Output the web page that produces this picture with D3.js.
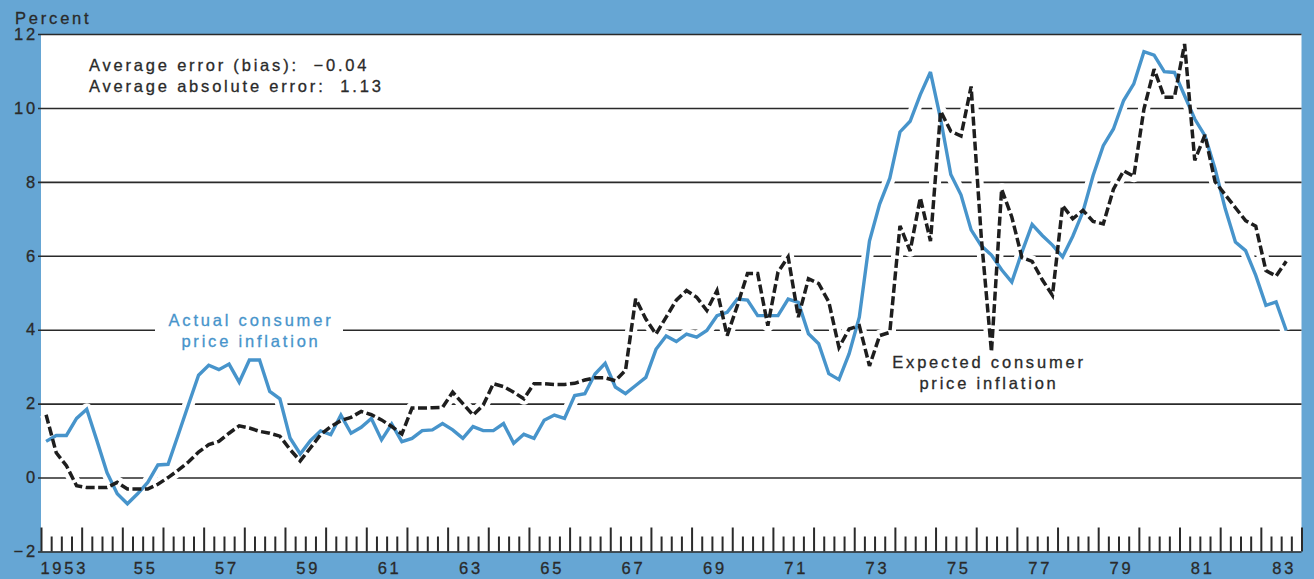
<!DOCTYPE html>
<html>
<head>
<meta charset="utf-8">
<script src="https://cdn.jsdelivr.net/npm/d3@7"></script>
<style>
  html, body { margin: 0; padding: 0; background: #66a6d4; }
  svg { display: block; }
  text { font-family: "Liberation Sans", Arial, Helvetica, sans-serif; }
</style>
</head>
<body>
<svg id="chart" width="1314" height="579"></svg>
<script>
// Quarterly series, 1953 Q1 through 1983 Q3 (percent)
const startYear = 1953;
const endYear = 1984;

const actualInflation = [
  0.98, 1.14, 1.14, 1.60,   // 1953
  1.85, 1.00, 0.13, -0.44,  // 1954
  -0.71, -0.44, -0.13, 0.34,// 1955
  0.36, 1.16, 1.97, 2.77,   // 1956
  3.04, 2.92, 3.07, 2.58,   // 1957
  3.18, 3.18, 2.33, 2.13,   // 1958
  1.07, 0.64, 1.00, 1.26,   // 1959
  1.16, 1.69, 1.20, 1.36,   // 1960
  1.60, 1.02, 1.45, 0.97,   // 1961
  1.06, 1.27, 1.29, 1.46,   // 1962
  1.29, 1.06, 1.38, 1.27,   // 1963
  1.27, 1.46, 0.93, 1.17,   // 1964
  1.06, 1.55, 1.69, 1.60,   // 1965
  2.22, 2.27, 2.80, 3.09,   // 1966
  2.45, 2.27, 2.49, 2.71,   // 1967
  3.47, 3.83, 3.68, 3.88,   // 1968
  3.80, 3.98, 4.38, 4.47,   // 1969
  4.83, 4.80, 4.38, 4.38,   // 1970
  4.38, 4.83, 4.74, 3.89,   // 1971
  3.62, 2.81, 2.65, 3.35,   // 1972
  4.34, 6.40, 7.40, 8.10,   // 1973
  9.35, 9.64, 10.36, 10.97, // 1974
  9.70, 8.20, 7.65, 6.70,   // 1975
  6.27, 6.02, 5.62, 5.29,   // 1976
  6.10, 6.85, 6.55, 6.29,   // 1977
  5.97, 6.53, 7.19, 8.17,   // 1978
  8.98, 9.43, 10.20, 10.65, // 1979
  11.52, 11.43, 10.98, 10.96, // 1980
  10.33, 9.70, 9.25, 8.35,  // 1981
  7.27, 6.37, 6.14, 5.47,   // 1982
  4.66, 4.75, 3.98          // 1983
];

const expectedInflation = [
  1.70, 0.67, 0.32, -0.22,  // 1953
  -0.27, -0.27, -0.27, -0.13, // 1954
  -0.31, -0.31, -0.31, -0.18, // 1955
  0.00, 0.20, 0.42, 0.69,   // 1956
  0.89, 0.98, 1.20, 1.40,   // 1957
  1.34, 1.25, 1.20, 1.12,   // 1958
  0.76, 0.45, 0.80, 1.16,   // 1959
  1.38, 1.54, 1.63, 1.79,   // 1960
  1.70, 1.56, 1.38, 1.18,   // 1961
  1.88, 1.88, 1.89, 1.90,   // 1962
  2.31, 2.00, 1.69, 1.96,   // 1963
  2.54, 2.46, 2.31, 2.13,   // 1964
  2.54, 2.54, 2.52, 2.52,   // 1965
  2.55, 2.64, 2.70, 2.70,   // 1966
  2.62, 2.90, 4.84, 4.29,   // 1967
  3.88, 4.34, 4.80, 5.06,   // 1968
  4.88, 4.52, 5.06, 3.84,   // 1969
  4.65, 5.52, 5.52, 4.11,   // 1970
  5.56, 5.97, 4.34, 5.38,   // 1971
  5.25, 4.75, 3.52, 4.02,   // 1972
  4.11, 3.02, 3.84, 3.93,   // 1973
  6.81, 6.13, 7.57, 6.40,   // 1974
  9.91, 9.37, 9.24, 10.58,  // 1975
  6.50, 3.40, 7.80, 7.05,   // 1976
  5.95, 5.85, 5.35, 4.93,   // 1977
  7.36, 7.00, 7.23, 6.93,   // 1978
  6.86, 7.80, 8.30, 8.15,   // 1979
  9.97, 11.05, 10.29, 10.29,// 1980
  11.73, 8.58, 9.27, 8.00,  // 1981
  7.65, 7.30, 6.95, 6.80,   // 1982
  5.60, 5.45, 5.85          // 1983
];

const yTickValues = [-2, 0, 2, 4, 6, 8, 10, 12];
const yearLabels = ["1953", "55", "57", "59", "61", "63", "65", "67", "69", "71", "73", "75", "77", "79", "81", "83"];
const labelYears = [1953, 1955, 1957, 1959, 1961, 1963, 1965, 1967, 1969, 1971, 1973, 1975, 1977, 1979, 1981, 1983];
const statLines = ["Average error (bias):\u00a0\u00a0\u22120.04", "Average absolute error:\u00a0\u00a01.13"];
const actualLabel = ["Actual consumer", "price inflation"];
const expectedLabel = ["Expected consumer", "price inflation"];

const ink = "#2a2a2a";
const lineBlue = "#4794cb";
const paper = "#ffffff";
const fontSize = 16.5;
const tracking = 2.8;

const svg = d3.select("#chart");

const x = d3.scaleLinear().domain([startYear, endYear]).range([41, 1301.5]);
const y = d3.scaleLinear().domain([-2, 12]).range([551.5, 34]);
const quarterTime = i => startYear + (i + 0.5) / 4;

// shared type settings; a hairline stroke gives the slightly heavier print weight
function typeset(sel, color) {
  return sel
    .attr("font-size", fontSize)
    .attr("letter-spacing", tracking)
    .attr("font-family", "Liberation Sans, Arial, sans-serif")
    .attr("fill", color)
    .attr("stroke", color)
    .attr("stroke-width", 0.3);
}

// white plotting field
svg.append("rect")
  .attr("x", x(startYear)).attr("y", y(12))
  .attr("width", x(endYear) - x(startYear))
  .attr("height", y(-2) - y(12))
  .attr("fill", paper);

// horizontal rules with value labels on the left
const gridLeft = 38;
const yAxis = d3.axisLeft(y)
  .tickValues(yTickValues)
  .tickSize(-(x(endYear) - gridLeft))
  .tickPadding(0)
  .tickFormat(d => d < 0 ? "\u2212" + Math.abs(d) : String(d));

const yg = svg.append("g")
  .attr("transform", `translate(${gridLeft},0)`)
  .call(yAxis);
yg.select(".domain").remove();
yg.selectAll(".tick line").attr("stroke", ink).attr("stroke-width", 1.6);
typeset(yg.selectAll(".tick text"), ink);

// quarterly tick marks on the time axis
const quarterBounds = d3.range(0, (endYear - startYear) * 4 + 1).map(q => startYear + q / 4);
const xAxis = d3.axisTop(x)
  .tickValues(quarterBounds)
  .tickSize(15)
  .tickFormat("");
const xg = svg.append("g")
  .attr("transform", `translate(0,${y(-2)})`)
  .call(xAxis);
xg.select(".domain").remove();
xg.selectAll(".tick line")
  .attr("stroke", ink)
  .attr("stroke-width", 2)
  .attr("y2", (d, i) => (i % 4 === 0 ? -24 : -15));

// year labels centred on each labelled year
typeset(svg.append("g").selectAll("text")
  .data(labelYears)
  .join("text")
  .attr("x", d => x(d + 0.5) + 3)
  .attr("y", 573.5)
  .attr("text-anchor", "middle")
  .text((d, i) => yearLabels[i]), ink);

// unit caption
typeset(svg.append("text")
  .attr("x", 15).attr("y", 24)
  .text("Percent"), ink);

// series lines
const line = d3.line()
  .x((d, i) => x(quarterTime(i)))
  .y(d => y(d));

const series = svg.append("g");
[actualInflation, expectedInflation].forEach(data => {
  series.append("path")
    .datum(data)
    .attr("d", line)
    .attr("fill", "none")
    .attr("stroke", paper)
    .attr("stroke-width", 12)
    .attr("stroke-linejoin", "round");
});

series.append("path")
  .datum(actualInflation)
  .attr("d", line)
  .attr("fill", "none")
  .attr("stroke", lineBlue)
  .attr("stroke-width", 3.4)
  .attr("stroke-linejoin", "miter")
  .attr("stroke-miterlimit", 3);

series.append("path")
  .datum(expectedInflation)
  .attr("d", line)
  .attr("fill", "none")
  .attr("stroke", "#1e1e1e")
  .attr("stroke-width", 3.5)
  .attr("stroke-dasharray", "9,3.5")
  .attr("stroke-linejoin", "miter")
  .attr("stroke-miterlimit", 3);

// summary statistics
const stats = svg.append("g");
stats.append("rect")
  .attr("x", 82).attr("y", 52).attr("width", 305).attr("height", 46)
  .attr("fill", paper);
typeset(stats.selectAll("text")
  .data(statLines)
  .join("text")
  .attr("x", 89)
  .attr("y", (d, i) => 71 + i * 21)
  .text(d => d), ink);

// series labels
function seriesLabel(lines, cx, baseline, color, box) {
  const g = svg.append("g");
  if (box) {
    g.append("rect")
      .attr("x", box[0]).attr("y", box[1])
      .attr("width", box[2]).attr("height", box[3])
      .attr("fill", paper);
  }
  typeset(g.selectAll("text")
    .data(lines)
    .join("text")
    .attr("x", cx)
    .attr("y", (d, i) => baseline + i * 20.5)
    .attr("text-anchor", "middle")
    .text(d => d), color);
}
seriesLabel(actualLabel, 251, 326, lineBlue, [155, 310, 188, 42]);
seriesLabel(expectedLabel, 989, 368, ink, null);
</script>
</body>
</html>
